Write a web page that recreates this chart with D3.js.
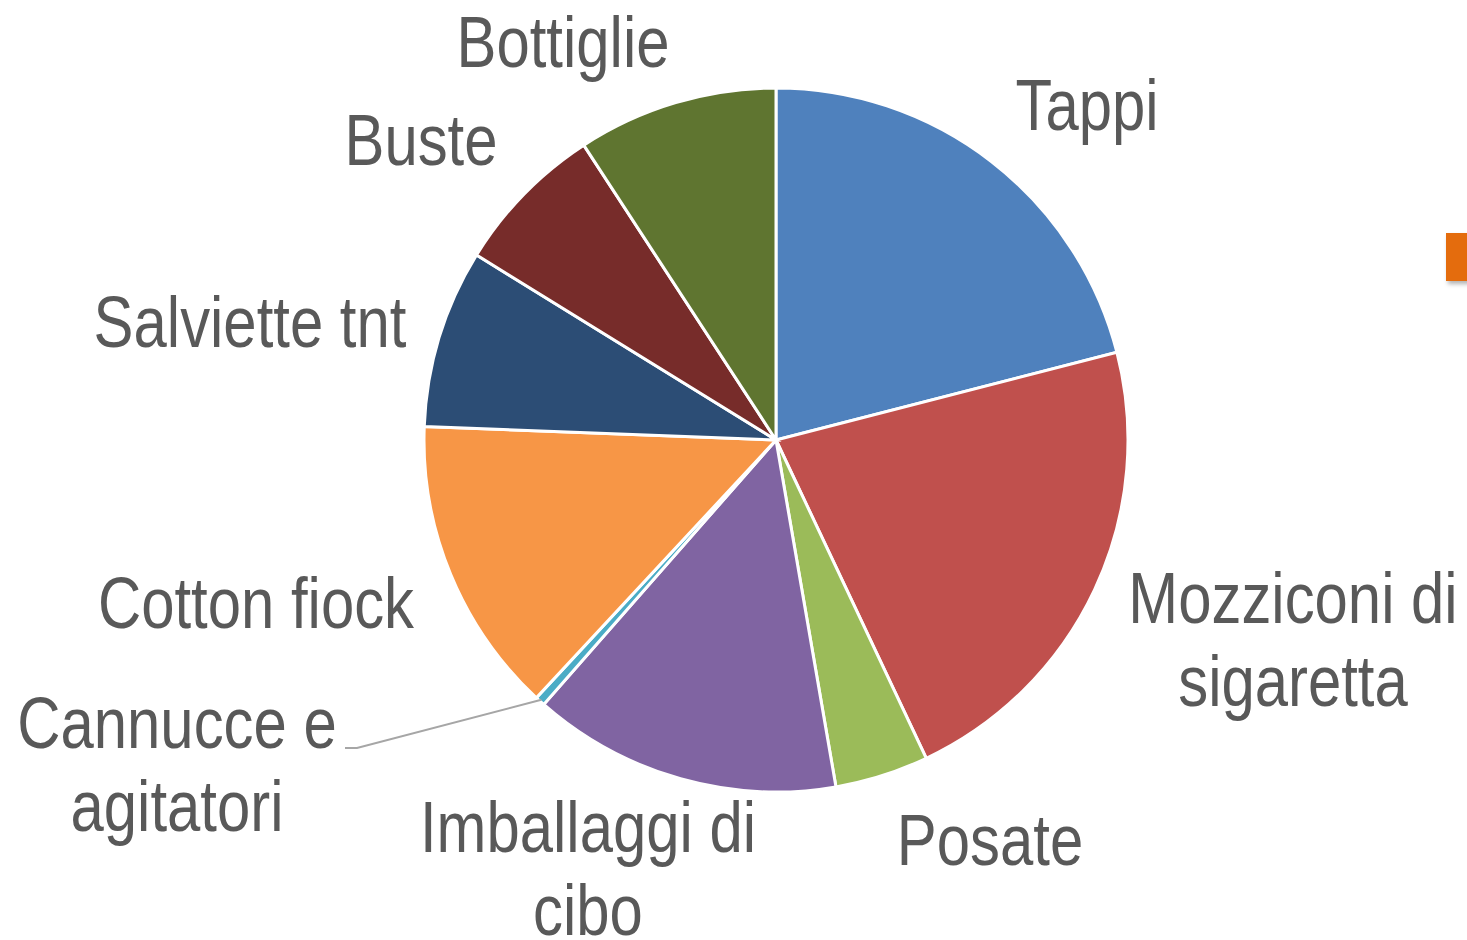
<!DOCTYPE html>
<html>
<head>
<meta charset="utf-8">
<script src="https://cdn.jsdelivr.net/npm/d3@7"></script>
<style>
  html, body { margin: 0; padding: 0; background: #fff; overflow: hidden; }
</style>
</head>
<body>
<div id="chart"></div>
<script>
// categories, clockwise from 12 o'clock
var categories = ["Tappi", "Mozziconi di sigaretta", "Posate", "Imballaggi di cibo",
    "Cannucce e agitatori", "Cotton fiock", "Salviette tnt", "Buste", "Bottiglie"];
// share of items (%)
var values = [21.0, 22.0, 4.3, 14.2, 0.45, 13.7, 8.2, 7.0, 9.2];
var colors = ["#4F81BD", "#C0504D", "#9BBB59", "#8064A2", "#4BACC6",
    "#F79646", "#2C4D75", "#772C2A", "#5F7530"];
// label lines as shown
var labelLines = [["Tappi"], ["Mozziconi di", "sigaretta"], ["Posate"], ["Imballaggi di", "cibo"],
    ["Cannucce e", "agitatori"], ["Cotton fiock"], ["Salviette tnt"], ["Buste"], ["Bottiglie"]];

var width = 1467, height = 940;
var cx = 776, cy = 440, radius = 352;

// label anchor spots (first baseline), Excel "best fit" style
var labelPos = [[1087, 130], [1293, 623], [990, 865], [588, 852],
    [177, 748], [256, 628], [250, 347], [421, 165], [563, 67]];

var svg = d3.select("#chart").append("svg")
    .attr("width", width)
    .attr("height", height);

var pie = d3.pie().sort(null).value(function(d) { return d; });
var arcs = pie(values);

var arc = d3.arc().innerRadius(0).outerRadius(radius);

var g = svg.append("g").attr("transform", "translate(" + cx + "," + cy + ")");

g.selectAll("path")
    .data(arcs)
    .enter().append("path")
    .attr("d", arc)
    .attr("fill", function(d, i) { return colors[i]; })
    .attr("stroke", "#fff")
    .attr("stroke-width", 3)
    .attr("stroke-linejoin", "miter");

// leader line for the tiny slice
var small = arcs[4];
var mid = (small.startAngle + small.endAngle) / 2;
var edge = [cx + (radius - 2) * Math.sin(mid), cy - (radius - 2) * Math.cos(mid)];
svg.append("polyline")
    .attr("points", [[345, 748], [357, 748], edge].map(function(p) { return p.join(","); }).join(" "))
    .attr("fill", "none")
    .attr("stroke", "#a6a6a6")
    .attr("stroke-width", 2);

// no narrow font installed -> squeeze Liberation Sans horizontally
var fontSize = 73, lineH = 83, squeeze = 0.82;
var labels = svg.selectAll("text.lbl")
    .data(labelLines)
    .enter().append("text")
    .attr("class", "lbl")
    .attr("text-anchor", "middle")
    .attr("transform", function(d, i) {
        return "translate(" + labelPos[i][0] + "," + labelPos[i][1] + ") scale(" + squeeze + ",1)";
    })
    .attr("font-family", "'Liberation Sans Narrow', 'Arial Narrow', 'Liberation Sans', sans-serif")
    .attr("font-size", fontSize)
    .attr("fill", "#595959");

labels.each(function(lines) {
    var t = d3.select(this);
    lines.forEach(function(s, k) {
        t.append("tspan")
            .attr("x", 0)
            .attr("y", k * lineH)
            .text(s);
    });
});

// clipped orange marker at the right edge
var defs = svg.append("defs");
var f = defs.append("filter").attr("id", "sh").attr("x", "-50%").attr("y", "-50%")
    .attr("width", "200%").attr("height", "200%");
f.append("feDropShadow").attr("dx", 2).attr("dy", 3).attr("stdDeviation", 2)
    .attr("flood-color", "#000").attr("flood-opacity", 0.3);
svg.append("rect")
    .attr("x", 1446).attr("y", 233)
    .attr("width", 40).attr("height", 48)
    .attr("fill", "#E46C0A")
    .attr("filter", "url(#sh)");
</script>
</body>
</html>
